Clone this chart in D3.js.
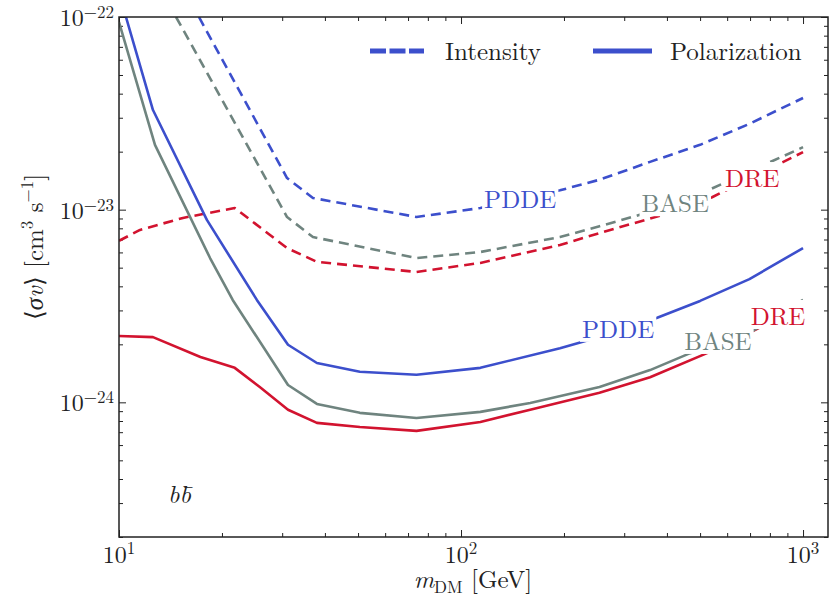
<!DOCTYPE html>
<html>
<head>
<meta charset="utf-8">
<script src="https://cdnjs.cloudflare.com/ajax/libs/d3/7.8.5/d3.min.js"></script>
<style>
  body { margin: 0; background: #fff; }
</style>
</head>
<body>
<div id="chart"></div>
<script>
// Masses in GeV, cross sections in cm^3 s^-1
const massPddePol = [10.48, 12.57, 18.07, 25.3, 31.2, 37.9, 50.6, 74.1, 113.9, 194.7, 254, 373, 500, 697, 1000];
const sigPddePol  = [1e-22, 3.29e-23, 8.85e-24, 3.40e-24, 1.99e-24, 1.60e-24, 1.44e-24, 1.39e-24, 1.51e-24, 1.91e-24, 2.18e-24, 2.74e-24, 3.36e-24, 4.36e-24, 6.32e-24];

const massBasePol = [10, 12.74, 18.46, 21.5, 31.2, 37.9, 50.6, 74.1, 113.9, 159.3, 254, 357, 468, 697, 1000];
const sigBasePol  = [9.42e-23, 2.17e-23, 5.61e-24, 3.40e-24, 1.23e-24, 9.81e-25, 8.82e-25, 8.30e-25, 8.92e-25, 9.93e-25, 1.20e-24, 1.47e-24, 1.80e-24, 2.29e-24, 3.40e-24];

const massDrePol = [10, 12.57, 17.3, 21.8, 25.8, 31.2, 37.9, 50.6, 74.1, 113.9, 159.3, 254, 357, 524, 725, 1000];
const sigDrePol  = [2.21e-24, 2.18e-24, 1.72e-24, 1.51e-24, 1.20e-24, 9.15e-25, 7.82e-25, 7.45e-25, 7.11e-25, 7.91e-25, 9.15e-25, 1.12e-24, 1.35e-24, 1.80e-24, 2.38e-24, 3.20e-24];

const massPddeInt = [17.13, 31.0, 36.9, 74.1, 113.9, 194.7, 254, 357, 500, 697, 1000];
const sigPddeInt  = [1e-22, 1.46e-23, 1.15e-23, 9.16e-24, 1.02e-23, 1.26e-23, 1.43e-23, 1.77e-23, 2.17e-23, 2.79e-23, 3.80e-23];

const massBaseInt = [14.68, 31.0, 36.9, 74.1, 113.9, 194.7, 254, 333, 527, 1000];
const sigBaseInt  = [1e-22, 9.16e-24, 7.21e-24, 5.61e-24, 6.03e-24, 7.21e-24, 8.2e-24, 9.4e-24, 1.26e-23, 2.11e-23];

const massDreInt = [10, 11.52, 15.38, 21.8, 31.0, 37.9, 74.1, 113.9, 194.7, 273, 408, 542, 1000];
const sigDreInt  = [6.89e-24, 7.85e-24, 9.06e-24, 1.02e-23, 6.32e-24, 5.36e-24, 4.75e-24, 5.29e-24, 6.56e-24, 7.85e-24, 9.62e-24, 1.16e-23, 1.99e-23];

// curve labels: name, mass, value (baseline)
const labelNames = ["PDDE", "BASE", "DRE", "PDDE", "BASE", "DRE"];
const labelMass  = [149, 423, 710, 288, 564, 845];
const labelSig   = [1.02e-23, 9.7e-24, 1.31e-23, 2.16e-24, 1.87e-24, 2.52e-24];

const xMajor = [10, 100, 1000];
const yMajor = [1e-22, 1e-23, 1e-24];
const xTickExp = ["1", "2", "3"];
const yTickExp = ["\u221222", "\u221223", "\u221224"];

const colors = { PDDE: "#3c4fcc", BASE: "#6f847f", DRE: "#d2132f" };
const serif = "'Latin Modern Roman', 'Liberation Serif', serif";

function init() {
  const width = 836, height = 602;
  const left = 119, right = 828, top = 17, bottom = 537;

  const svg = d3.select("#chart").append("svg")
    .attr("width", width).attr("height", height);

  // every text gets the serif face inline
  const addText = (parent) => parent.append("text")
    .style("font-family", serif).style("fill", "#222");

  const x = d3.scaleLog().domain([10, 1183]).range([left, right]);
  const y = d3.scaleLog().domain([2e-25, 1e-22]).range([bottom, top]);

  svg.append("clipPath").attr("id", "clip")
    .append("rect").attr("x", left).attr("y", top)
    .attr("width", right - left).attr("height", bottom - top);

  // minor tick values
  const xMinor = [];
  for (const d of [10, 100]) for (let k = 2; k <= 9; k++) xMinor.push(k * d);
  const yMinor = [];
  for (const d of [1e-25, 1e-24, 1e-23]) for (let k = 2; k <= 9; k++) yMinor.push(k * d);

  const axes = svg.append("g");
  const tickStyle = g => {
    g.select(".domain").remove();
    g.selectAll("line").attr("stroke", "#222").attr("stroke-width", 1);
  };
  // inward ticks on all four sides
  axes.append("g").attr("transform", `translate(0,${bottom})`)
    .call(d3.axisBottom(x).tickValues(xMajor).tickSize(-7).tickFormat("")).call(tickStyle);
  axes.append("g").attr("transform", `translate(0,${bottom})`)
    .call(d3.axisBottom(x).tickValues(xMinor).tickSize(-4).tickFormat("")).call(tickStyle);
  axes.append("g").attr("transform", `translate(0,${top})`)
    .call(d3.axisTop(x).tickValues(xMajor).tickSize(-7).tickFormat("")).call(tickStyle);
  axes.append("g").attr("transform", `translate(0,${top})`)
    .call(d3.axisTop(x).tickValues(xMinor).tickSize(-4).tickFormat("")).call(tickStyle);
  axes.append("g").attr("transform", `translate(${left},0)`)
    .call(d3.axisLeft(y).tickValues(yMajor).tickSize(-7).tickFormat("")).call(tickStyle);
  axes.append("g").attr("transform", `translate(${left},0)`)
    .call(d3.axisLeft(y).tickValues(yMinor).tickSize(-4).tickFormat("")).call(tickStyle);
  axes.append("g").attr("transform", `translate(${right},0)`)
    .call(d3.axisRight(y).tickValues(yMajor).tickSize(-7).tickFormat("")).call(tickStyle);
  axes.append("g").attr("transform", `translate(${right},0)`)
    .call(d3.axisRight(y).tickValues(yMinor).tickSize(-4).tickFormat("")).call(tickStyle);

  // tick labels
  xMajor.forEach((v, i) => {
    const t = addText(svg).attr("x", x(v)).attr("y", 563)
      .attr("text-anchor", "middle").attr("font-size", 24);
    t.append("tspan").text("10");
    t.append("tspan").attr("font-size", 17).attr("dy", -9).text(xTickExp[i]);
  });
  yMajor.forEach((v, i) => {
    const t = addText(svg).attr("x", 114).attr("y", y(v) + 9)
      .attr("text-anchor", "end").attr("font-size", 24);
    t.append("tspan").text("10");
    t.append("tspan").attr("font-size", 17).attr("dy", -8).text(yTickExp[i]);
  });

  // curves
  const line = d3.line().x(d => x(d[0])).y(d => y(d[1]));
  const series = [
    [massPddeInt, sigPddeInt, colors.PDDE, true],
    [massBaseInt, sigBaseInt, colors.BASE, true],
    [massDreInt, sigDreInt, colors.DRE, true],
    [massDrePol, sigDrePol, colors.DRE, false],
    [massBasePol, sigBasePol, colors.BASE, false],
    [massPddePol, sigPddePol, colors.PDDE, false]
  ];
  const plot = svg.append("g").attr("clip-path", "url(#clip)");
  series.forEach(([m, s, c, dashed]) => {
    plot.append("path")
      .datum(d3.zip(m, s))
      .attr("d", line)
      .attr("fill", "none")
      .attr("stroke", c)
      .attr("stroke-width", 2.6)
      .attr("stroke-linejoin", "round")
      .attr("stroke-dasharray", dashed ? "10,6" : null);
  });

  // curve labels on a white box that cuts the lines
  const labels = svg.append("g");
  labelNames.forEach((name, i) => {
    const g = labels.append("g");
    const t = addText(g)
      .attr("x", x(labelMass[i])).attr("y", y(labelSig[i]))
      .attr("text-anchor", "middle")
      .attr("font-size", 25)
      .style("fill", colors[name])
      .text(name);
    const b = t.node().getBBox();
    g.insert("rect", "text")
      .attr("x", b.x - 2).attr("y", b.y + 3)
      .attr("width", b.width + 4).attr("height", b.height - 6)
      .attr("fill", "#fff");
  });

  // frame
  svg.append("rect").attr("x", left).attr("y", top)
    .attr("width", right - left).attr("height", bottom - top)
    .attr("fill", "none").attr("stroke", "#222").attr("stroke-width", 1.5);

  // legend
  const leg = svg.append("g");
  leg.append("line").attr("x1", 370).attr("x2", 424).attr("y1", 51).attr("y2", 51)
    .attr("stroke", colors.PDDE).attr("stroke-width", 5).attr("stroke-dasharray", "16,3.5");
  addText(leg).attr("x", 445).attr("y", 60).attr("font-size", 25).text("Intensity");
  leg.append("line").attr("x1", 593).attr("x2", 652).attr("y1", 51).attr("y2", 51)
    .attr("stroke", colors.PDDE).attr("stroke-width", 5);
  addText(leg).attr("x", 670).attr("y", 60).attr("font-size", 25).text("Polarization");

  // channel label
  const bb = addText(svg).attr("x", 168).attr("y", 503)
    .attr("font-size", 25).attr("font-style", "italic");
  bb.append("tspan").text("b");
  bb.append("tspan").text("b\u0304");

  // axis titles
  const xt = addText(svg).attr("x", 473).attr("y", 588)
    .attr("text-anchor", "middle").attr("font-size", 25);
  xt.append("tspan").attr("font-style", "italic").text("m");
  xt.append("tspan").attr("font-size", 17).attr("dy", 5).text("DM");
  xt.append("tspan").attr("dy", -5).text(" [GeV]");

  const yt = addText(svg)
    .attr("transform", `translate(43,247) rotate(-90)`)
    .attr("text-anchor", "middle").attr("font-size", 25);
  yt.append("tspan").text("\u27E8");
  yt.append("tspan").attr("font-style", "italic").text("\u03C3v");
  yt.append("tspan").text("\u27E9 [cm");
  yt.append("tspan").attr("font-size", 17).attr("dy", -10).text("3");
  yt.append("tspan").attr("dy", 10).text(" s");
  yt.append("tspan").attr("font-size", 17).attr("dy", -10).text("\u22121");
  yt.append("tspan").attr("dy", 10).text("]");
}

window.onload = init;
</script>
</body>
</html>
